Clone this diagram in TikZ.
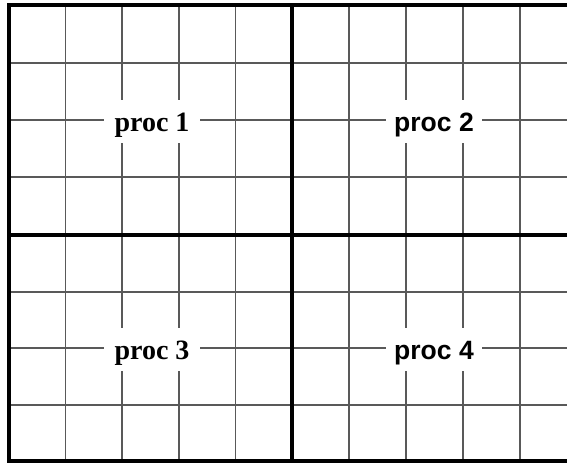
\documentclass[tikz,border=0pt]{standalone}
\usepackage{fontspec}
\newfontfamily\timesfont{Liberation Serif}
\newfontfamily\arialfont{Liberation Sans}
\usetikzlibrary{positioning}

\begin{document}
\begin{tikzpicture}[x=1pt, y=-1pt,
    gridline/.style={draw=black!65, line width=1.5pt},
    splitline/.style={draw=black, line width=4.5pt},
    proclabel/.style={fill=white, inner sep=0pt, minimum width=96pt, minimum height=43pt, text height=19pt, text depth=0pt, font=\fontsize{28}{30}\selectfont\bfseries},
    sanslabel/.style={proclabel, font=\fontsize{26.5}{30}\selectfont\bfseries\arialfont}]
    \useasboundingbox (0,0) rectangle (567,463);
    \clip (0,0) rectangle (567,463);
    % fine grid
    \foreach \x in {65.5, 122, 179, 235.5, 349, 406, 463, 520} {
        \draw[gridline] (\x,5) -- (\x,461);
    }
    \foreach \y in {63, 120, 177, 292, 348, 405} {
        \draw[gridline] (9,\y) -- (577,\y);
    }
    % processor blocks
    \node[proclabel] (proc1) at (152,121.5) {\timesfont proc 1};
    \node[sanslabel] (proc2) at (434,121.5) {proc 2};
    \node[proclabel] (proc3) at (152,349.5) {\timesfont proc 3};
    \node[sanslabel] (proc4) at (434,349.5) {proc 4};
    % block borders
    \draw[splitline] (9,5) rectangle (577,461);
    \draw[splitline] (292,5) -- (292,461);
    \draw[splitline] (9,235) -- (577,235);
\end{tikzpicture}
\end{document}
